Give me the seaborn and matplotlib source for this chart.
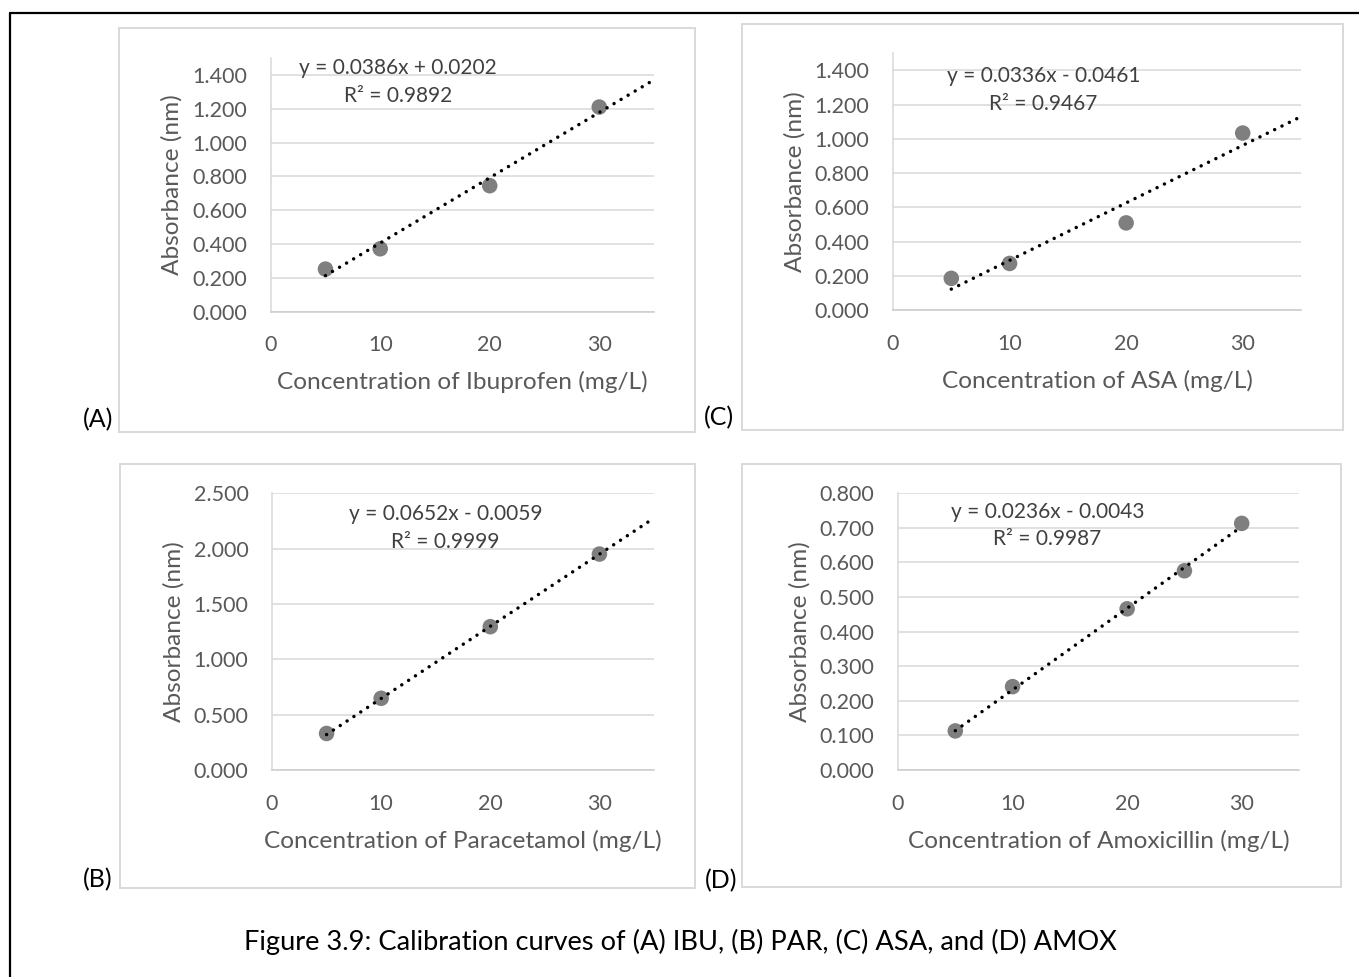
import numpy as np
import pandas as pd
import matplotlib
matplotlib.use("Agg")
import matplotlib.pyplot as plt
import seaborn as sns
from matplotlib.patches import Rectangle
from matplotlib.lines import Line2D

# ---------------- data ----------------
conc_ibu = [5, 10, 20, 30]
abs_ibu = [0.252, 0.372, 0.745, 1.210]
conc_par = [5, 10, 20, 30]
abs_par = [0.330, 0.648, 1.295, 1.951]
conc_asa = [5, 10, 20, 30]
abs_asa = [0.185, 0.272, 0.509, 1.034]
conc_amox = [5, 10, 20, 25, 30]
abs_amox = [0.113, 0.241, 0.466, 0.576, 0.713]

slopes = [0.0386, 0.0652, 0.0336, 0.0236]
intercepts = [0.0202, -0.0059, -0.0461, -0.0043]
trend_start = [5, 5, 5, 5]
trend_end = [35, 35, 35, 30]

eq_texts = ["y = 0.0386x + 0.0202", "y = 0.0652x - 0.0059",
            "y = 0.0336x - 0.0461", "y = 0.0236x - 0.0043"]
r2_texts = ["R² = 0.9892", "R² = 0.9999", "R² = 0.9467", "R² = 0.9987"]

x_labels = ["Concentration of Ibuprofen (mg/L)", "Concentration of Paracetamol (mg/L)",
            "Concentration of ASA (mg/L)", "Concentration of Amoxicillin (mg/L)"]
y_label = "Absorbance (nm)"
panel_letters = ["(A)", "(B)", "(C)", "(D)"]

x_ticks = [0, 10, 20, 30]
y_ticks_ibu = [0.0, 0.2, 0.4, 0.6, 0.8, 1.0, 1.2, 1.4]
y_ticks_par = [0.0, 0.5, 1.0, 1.5, 2.0, 2.5]
y_ticks_asa = [0.0, 0.2, 0.4, 0.6, 0.8, 1.0, 1.2, 1.4]
y_ticks_amox = [0.0, 0.1, 0.2, 0.3, 0.4, 0.5, 0.6, 0.7, 0.8]

caption = "Figure 3.9: Calibration curves of (A) IBU, (B) PAR, (C) ASA, and (D) AMOX"

# ---------------- layout (pixels) ----------------
W, H = 1359, 977
DPI = 100
# axes: x0, x1, y_top, y_bottom (pixels), ylim top
axes_px = [
    (270.7, 654, 58, 311.7, 1.5),
    (272, 654, 493.3, 770, 2.5),
    (893, 1301, 53.3, 310, 1.5),
    (898, 1299, 493.3, 770, 0.8),
]
boxes_px = [
    (119, 28, 695, 432),
    (120, 464, 695, 888),
    (742, 24, 1343, 430),
    (742, 464, 1341, 887),
]
letters_px = [(98, 420), (98, 880), (719, 418), (721, 881)]
eq_pos = [(11.6, 1.44, 1.275), (15.9, 2.31, 2.06), (12.9, 1.366, 1.203), (13.05, 0.747, 0.669)]

series_x = [conc_ibu, conc_par, conc_asa, conc_amox]
series_y = [abs_ibu, abs_par, abs_asa, abs_amox]
y_ticks_all = [y_ticks_ibu, y_ticks_par, y_ticks_asa, y_ticks_amox]

sns.set_theme(style="white")
plt.rcParams["font.family"] = ["Lato", "DejaVu Sans"]

fig = plt.figure(figsize=(W / DPI, H / DPI), dpi=DPI)
fig.patch.set_facecolor("white")

GRAY_TXT = "#595959"
EQ_TXT = "#404040"
GRID = "#d9d9d9"

def px2fig(x, y):
    return x / W, 1 - y / H

# outer black border (top and left)
fig.add_artist(Line2D([10 / W, 1.0], [1 - 13 / H, 1 - 13 / H], color="black", lw=1.6,
                      transform=fig.transFigure))
fig.add_artist(Line2D([10 / W, 10 / W], [1 - 13 / H, 0.0], color="black", lw=1.6,
                      transform=fig.transFigure))

for i in range(4):
    bx0, by0, bx1, by1 = boxes_px[i]
    fig.add_artist(Rectangle((bx0 / W, 1 - by1 / H), (bx1 - bx0) / W, (by1 - by0) / H,
                             transform=fig.transFigure, fill=False, edgecolor=GRID, lw=1.4))

    x0, x1, yt, yb, ytop = axes_px[i]
    ax = fig.add_axes([x0 / W, 1 - yb / H, (x1 - x0) / W, (yb - yt) / H])
    ax.set_facecolor("none")

    df = pd.DataFrame({"conc": series_x[i], "abs": series_y[i]})
    sns.scatterplot(data=df, x="conc", y="abs", ax=ax, s=125, color="#7f7f7f",
                    edgecolor="none", linewidth=0, zorder=3)

    tx = np.array([trend_start[i], trend_end[i]], dtype=float)
    ty = slopes[i] * tx + intercepts[i]
    ax.plot(tx, ty, color="black", lw=2.5, linestyle=(0, (0.01, 2.35)),
            dash_capstyle="round", zorder=4)

    ax.set_xlim(0, 35)
    ax.set_ylim(0, ytop)
    ax.set_xticks(x_ticks)
    ax.set_xticklabels([str(t) for t in x_ticks])
    ax.set_yticks(y_ticks_all[i])
    ax.set_yticklabels([f"{t:.3f}" for t in y_ticks_all[i]])
    ax.tick_params(axis="both", length=0, labelsize=15.5, labelcolor=GRAY_TXT)
    ax.tick_params(axis="y", pad=17)
    ax.tick_params(axis="x", pad=17)

    ax.yaxis.grid(True, color=GRID, lw=1.1)
    ax.xaxis.grid(False)
    ax.set_axisbelow(True)
    for s in ["top", "right"]:
        ax.spines[s].set_visible(False)
    ax.spines["left"].set_color(GRID)
    ax.spines["left"].set_linewidth(1.1)
    ax.spines["bottom"].set_color("#cccccc")
    ax.spines["bottom"].set_linewidth(1.1)

    ax.set_xlabel(x_labels[i], fontsize=17.6, color=GRAY_TXT)
    ax.set_ylabel(y_label, fontsize=17.6, color=GRAY_TXT)
    wpx = x1 - x0
    hpx = yb - yt
    ax.xaxis.set_label_coords(0.5, -70.5 / hpx)
    ax.xaxis.label.set_va("center")
    ax.yaxis.set_label_coords(-98.5 / wpx, 0.5)
    ax.yaxis.label.set_va("center")

    ex, ey1, ey2 = eq_pos[i]
    ax.text(ex, ey1, eq_texts[i], ha="center", va="center", fontsize=15, color=EQ_TXT, zorder=5)
    ax.text(ex, ey2, r2_texts[i], ha="center", va="center", fontsize=15, color=EQ_TXT, zorder=5)

    lx, ly = letters_px[i]
    fx, fy = px2fig(lx, ly)
    fig.text(fx, fy, panel_letters[i], ha="center", va="center", fontsize=18, color="black")

cx, cy = px2fig(680, 942)
fig.text(cx, cy, caption, ha="center", va="center", fontsize=19.6, color="black")

fig.savefig("out.png", dpi=DPI, facecolor="white")
